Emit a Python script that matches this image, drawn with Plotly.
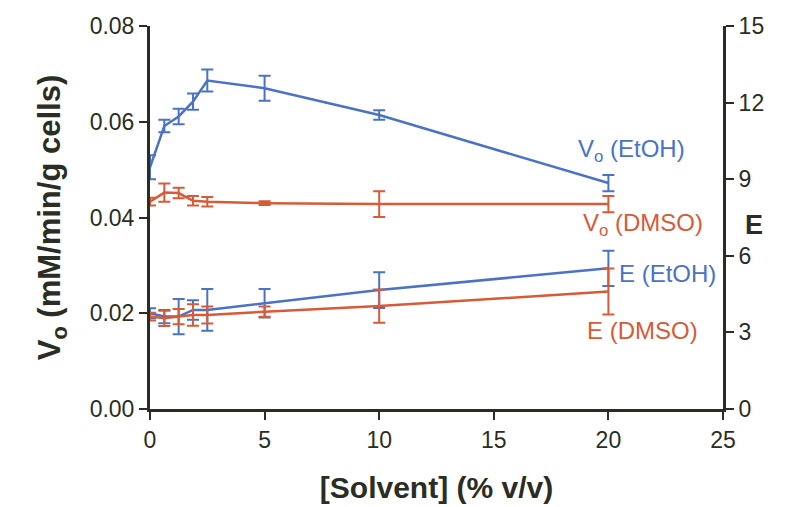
import plotly.graph_objects as go

solvent = [0, 0.625, 1.25, 1.875, 2.5, 5, 10, 20]

vo_etoh = [0.0505, 0.0591, 0.0611, 0.0642, 0.0686, 0.0670, 0.0614, 0.0472]
vo_etoh_err = [0.0025, 0.0013, 0.0016, 0.0017, 0.0023, 0.0026, 0.0010, 0.0017]

vo_dmso = [0.0433, 0.0452, 0.0451, 0.0435, 0.0433, 0.0430, 0.0428, 0.0428]
vo_dmso_err = [0.0008, 0.0019, 0.0011, 0.0010, 0.0010, 0.0004, 0.0027, 0.0017]

e_etoh = [3.75, 3.62, 3.62, 3.88, 3.88, 4.14, 4.66, 5.51]
e_etoh_err = [0.2, 0.26, 0.69, 0.38, 0.82, 0.56, 0.7, 0.69]

e_dmso = [3.62, 3.55, 3.62, 3.68, 3.68, 3.81, 4.03, 4.60]
e_dmso_err = [0.15, 0.3, 0.3, 0.42, 0.33, 0.2, 0.65, 0.9]

x_ticks = [0, 5, 10, 15, 20, 25]
left_ticks = [0.0, 0.02, 0.04, 0.06, 0.08]
right_ticks = [0, 3, 6, 9, 12, 15]

BLUE = "#4a72c6"
RED = "#d85a37"
AX = "#2a2e22"
FONT = "Liberation Sans, Arial, sans-serif"

fig = go.Figure()

def add(y, err, color, axis):
    fig.add_trace(go.Scatter(
        x=solvent, y=y, yaxis=axis, mode="lines",
        line=dict(color=color, width=2.5),
        error_y=dict(type="data", array=err, visible=True, color=color,
                     thickness=2, width=6),
        showlegend=False, cliponaxis=False,
    ))

add(vo_etoh, vo_etoh_err, BLUE, "y")
add(vo_dmso, vo_dmso_err, RED, "y")
add(e_etoh, e_etoh_err, BLUE, "y2")
add(e_dmso, e_dmso_err, RED, "y2")

labels = [
    ("V<sub>o</sub> (EtOH)", 21.0, 0.0540, BLUE),
    ("V<sub>o</sub> (DMSO)", 21.5, 0.0385, RED),
    ("E (EtOH)", 22.6, 0.0284, BLUE),
    ("E (DMSO)", 21.5, 0.0165, RED),
]
for text, lx, ly, c in labels:
    fig.add_annotation(x=lx, y=ly, xref="x", yref="y", text=text,
                       showarrow=False, font=dict(color=c, size=24, family=FONT))

# right axis title drawn horizontally
fig.add_annotation(x=1.0, y=0.48, xref="paper", yref="paper", xanchor="left",
                   xshift=20, text="<b>E</b>", showarrow=False,
                   font=dict(size=27, color=AX, family=FONT))

axis_common = dict(
    showline=True, linecolor=AX, linewidth=3, ticks="outside", ticklen=8,
    tickwidth=2, tickcolor=AX, showgrid=False, zeroline=False, automargin=False,
    tickfont=dict(size=23, color=AX, family=FONT),
)

fig.update_layout(
    width=795, height=507,
    margin=dict(l=150, r=72, t=26, b=98),
    plot_bgcolor="white", paper_bgcolor="white",
    xaxis=dict(range=[0, 25], tickvals=x_ticks, **axis_common,
               title=dict(text="<b>[Solvent] (% v/v)</b>",
                          font=dict(size=30, color=AX, family=FONT), standoff=26)),
    yaxis=dict(range=[0, 0.08], tickvals=left_ticks, tickformat=".2f", **axis_common,
               title=dict(text="<b>V<sub>o</sub> (mM/min/g cells)</b>",
                          font=dict(size=31, color=AX, family=FONT), standoff=20)),
    yaxis2=dict(range=[0, 15], tickvals=right_ticks, overlaying="y", side="right",
                **axis_common),
)

fig.write_html("out.html")
